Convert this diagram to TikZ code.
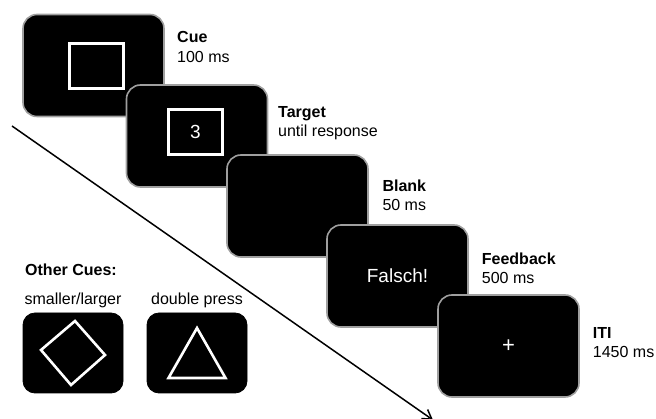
\documentclass[tikz,border=0pt]{standalone}
\usepackage{fontspec}
\setmainfont{Liberation Sans}
\usetikzlibrary{arrows.meta}
\begin{document}
\begin{tikzpicture}[x=1pt,y=-1pt,
  screen/.style={rounded corners=14pt, fill=black, draw=gray!75, line width=1.6pt,
    minimum width=141pt, minimum height=102pt, inner sep=0pt, outer sep=0pt},
  cuebox/.style={rounded corners=12pt, fill=black, draw=black, line width=0.8pt,
    minimum width=100pt, minimum height=80pt, inner sep=0pt},
  frame/.style={draw=white, line width=2.6pt, fill=black,
    minimum width=54pt, minimum height=45pt, inner sep=0pt},
  lbl/.style={anchor=base west, inner sep=0pt, font=\fontsize{16}{19}\selectfont},
  lblb/.style={lbl, font=\fontsize{16}{19}\selectfont\bfseries},
  wtxt/.style={text=white, inner sep=0pt, font=\fontsize{19}{22}\selectfont},
  shapeline/.style={draw=white, line width=2.6pt, line join=miter}
]
\useasboundingbox (0,0) rectangle (656,419);
% time arrow
\coordinate (tstart) at (12,126);
\coordinate (tend) at (433,420);
\draw[line width=1.5pt, -{Straight Barb[length=9pt,width=11pt,line width=1.5pt]}] (tstart) -- (tend);

% screen 1: Cue
\node[screen] (s1) at (93.5,65.5) {};
\node[frame] (f1) at (96.5,66) {};
\node[lblb] (l1a) at (177,43) {Cue};
\node[lbl] (l1b) at (177,63) {100 ms};
% screen 2: Target
\node[screen] (s2) at (197,136) {};
\node[frame] (f2) at (195.5,132) {};
\node[wtxt] (t2) at (f2) {3};
\node[lblb] (l2a) at (278,117.7) {Target};
\node[lbl] (l2b) at (278,136.7) {until response};
% screen 3: Blank
\node[screen] (s3) at (297.5,206) {};
\node[lblb] (l3a) at (382.3,191.7) {Blank};
\node[lbl] (l3b) at (382.3,211) {50 ms};
% screen 4: Feedback
\node[screen] (s4) at (397.5,276) {};
\node[wtxt] (t4) at (s4) {Falsch!};
\node[lblb] (l4a) at (481.7,265) {Feedback};
\node[lbl] (l4b) at (481.7,284) {500 ms};
% screen 5: ITI
\node[screen] (s5) at (508.5,346) {};
\node[wtxt, font=\fontsize{22}{24}\selectfont] (t5) at (s5) {+};
\node[lblb] (l5a) at (592.7,338.3) {ITI};
\node[lbl] (l5b) at (592.7,357.3) {1450 ms};

% other cues
\node[lblb] (oc) at (25,276) {Other Cues:};
\node[lbl, anchor=base] (oc1) at (73,305) {smaller/larger};
\node[lbl, anchor=base] (oc2) at (197,305) {double press};
\node[cuebox] (b1) at (73,353) {};
\node[cuebox] (b2) at (197,353) {};
\draw[shapeline] ([shift={(2,-32)}]b1.center) -- ([shift={(32,2)}]b1.center)
  -- ([shift={(-2,32)}]b1.center) -- ([shift={(-32,-3)}]b1.center) -- cycle;
\draw[shapeline] ([shift={(0,-25)}]b2.center) -- ([shift={(28.5,25)}]b2.center)
  -- ([shift={(-28.5,25)}]b2.center) -- cycle;
\end{tikzpicture}
\end{document}
